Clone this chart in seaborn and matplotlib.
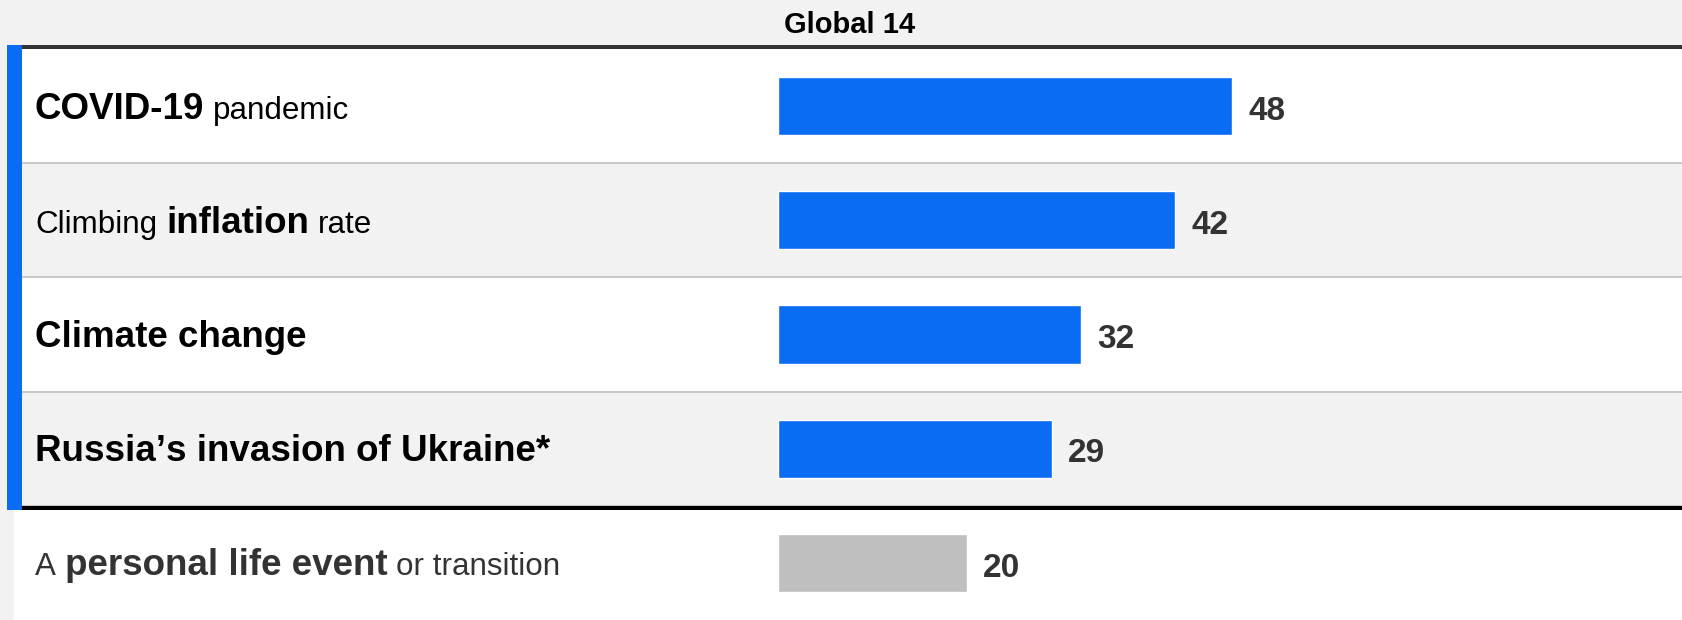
import matplotlib
matplotlib.use("Agg")
import matplotlib.pyplot as plt
from matplotlib.patches import Rectangle
import seaborn as sns

# ---- data -------------------------------------------------------------
title = "Global 14"
categories = [
    "COVID-19 pandemic",
    "Climbing inflation rate",
    "Climate change",
    "Russia’s invasion of Ukraine*",
    "A personal life event or transition",
]
values = [48, 42, 32, 29, 20]
groups = ["global", "global", "global", "global", "personal"]
label_parts = [
    [("COVID-19", "bold"), ("pandemic", "normal")],
    [("Climbing", "normal"), ("inflation", "bold"), ("rate", "normal")],
    [("Climate change", "bold")],
    [("Russia’s invasion of Ukraine*", "bold")],
    [("A", "normal"), ("personal life event", "bold"), ("or transition", "normal")],
]

# ---- style ------------------------------------------------------------
W, H, DPI = 1683, 620, 100
BG = "#f2f2f2"
BLUE = "#0a6cf2"
GREY_BAR = "#bfbfbf"
SEP = "#c8c8c8"
PX = 72 / DPI  # points per pixel

sns.set_theme(style="white")
plt.rcParams["font.family"] = ["Liberation Sans", "DejaVu Sans"]
plt.rcParams["text.kerning_factor"] = 6  # keep digit pairs evenly spaced

fig = plt.figure(figsize=(W / DPI, H / DPI), dpi=DPI, facecolor=BG)
top_px = 49
row_px = (H - top_px) / len(categories)
ax = fig.add_axes([0, 0, 1, (H - top_px) / H])
ax.set_facecolor("none")

# horizontal scale: bars start at x=778 px, 9.46 px per percentage point
px_per_unit = 9.46
x0_px = 778
ax.set_xlim(-x0_px / px_per_unit, (W - x0_px) / px_per_unit)

# ---- row backgrounds --------------------------------------------------
n = len(categories)
for i in range(n):
    if i in (0, 2):
        ax.axhspan(i - 0.5, i + 0.5, xmin=22 / W, xmax=1, color="white", lw=0, zorder=0)
ax.axhspan(3.5 + 4 / row_px, 4.6, xmin=14 / W, xmax=1, color="white", lw=0, zorder=0)

# ---- bars -------------------------------------------------------------
sns.barplot(
    x=values, y=categories, hue=groups,
    palette={"global": BLUE, "personal": GREY_BAR},
    orient="h", width=0.51, dodge=False, legend=False,
    saturation=1, ax=ax, zorder=2,
)
ax.set_ylim(n - 0.5, -0.5)
ax.axis("off")

# separators between rows
for i in range(3):
    ax.axhline(i + 0.5, xmin=22 / W, xmax=1, color=SEP, lw=2 * PX, zorder=1)
ax.axhline(3.5, xmin=22 / W, xmax=1, color=SEP, lw=2 * PX, zorder=1)
# heavy rules above and below the highlighted group
ax.axhline(-0.5 - 2 / row_px, xmin=22 / W, xmax=1, color="#333333",
           lw=4 * PX, zorder=3, clip_on=False)
ax.axhline(3.5 + 2.5 / row_px, xmin=22 / W, xmax=1, color="#000000",
           lw=4 * PX, zorder=3, clip_on=False)

# blue marker strip on the left of the highlighted group
fig.add_artist(Rectangle((7 / W, 1 - 510 / H), 15 / W, (510 - 45) / H,
                         transform=fig.transFigure, facecolor=BLUE,
                         edgecolor="none", zorder=4))

# ---- value labels -----------------------------------------------------
for i, v in enumerate(values):
    ax.annotate(f"{v}", xy=(v, i + 0.12), xytext=(16 * PX, 0),
                textcoords="offset points", ha="left", va="baseline",
                fontsize=24, fontweight="bold", color="#333333")

# ---- row labels (mixed weight) ----------------------------------------
fig.canvas.draw()
renderer = fig.canvas.get_renderer()
for i, parts in enumerate(label_parts):
    color = "#333333" if groups[i] == "personal" else "#000000"
    x_px = 35
    y_fig = 1 - (top_px + (i + 0.5) * row_px + 12.5) / H
    for text, weight in parts:
        size = 26.5 if weight == "bold" else 22.6
        t = fig.text(x_px / W, y_fig, text, ha="left", va="baseline",
                     fontsize=size, fontweight=weight, color=color)
        bb = t.get_window_extent(renderer=renderer)
        x_px = bb.x1 + 9

# ---- title ------------------------------------------------------------
fig.text(850 / W, 1 - 33 / H, title, ha="center", va="baseline",
         fontsize=21, fontweight="bold", color="#000000")

fig.savefig("out.png", dpi=DPI, facecolor=BG)
